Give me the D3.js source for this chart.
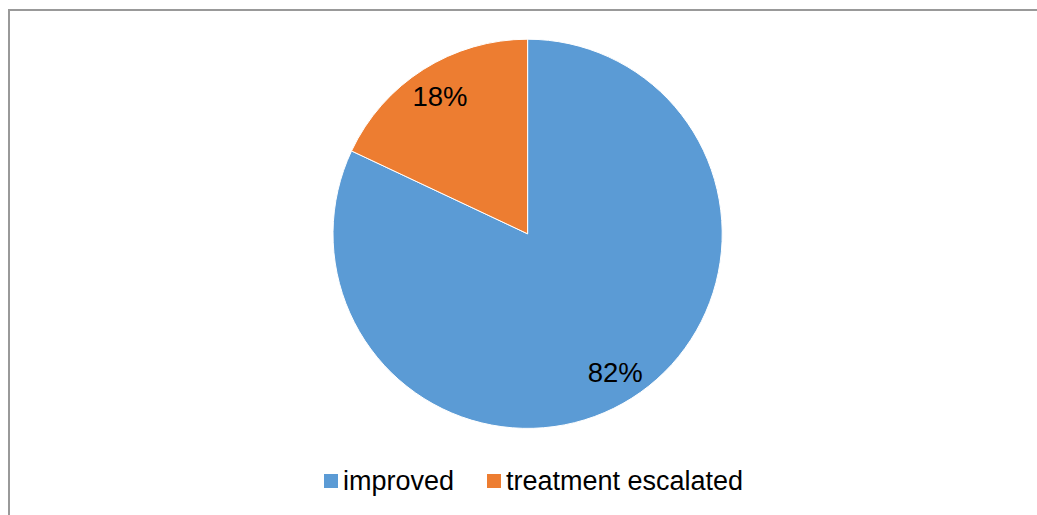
<!DOCTYPE html>
<html>
<head>
<meta charset="utf-8">
<script src="https://cdn.jsdelivr.net/npm/d3@7"></script>
<style>
  html, body { margin: 0; padding: 0; background: #fff; }
  svg { display: block; }
  text { font-family: "Liberation Sans", Arial, sans-serif; fill: #000; }
</style>
</head>
<body>
<svg id="chart" width="1037" height="515"></svg>
<script>
// Outcome shares
const categories = ["improved", "treatment escalated"];
const values = [82, 18];
const labels = ["82%", "18%"];
const colors = ["#5B9BD5", "#ED7D31"];

const W = 1037, H = 515;
const svg = d3.select("#chart");

// Chart frame (right and bottom edges run past the visible area)
svg.append("rect")
  .attr("x", 9).attr("y", 10)
  .attr("width", W + 20).attr("height", H + 20)
  .attr("fill", "#fff")
  .attr("stroke", "#999999")
  .attr("stroke-width", 2);

const cx = 527.6, cy = 233.8, r = 194.6;

// Slices run clockwise from 12 o'clock; the larger share is drawn first
const pie = d3.pie().sort(null).value(d => d)
  .startAngle(0).endAngle(2 * Math.PI);
const arcs = pie(values);
const arc = d3.arc().innerRadius(0).outerRadius(r);
const labelArc = d3.arc().innerRadius(r * 0.84).outerRadius(r * 0.84);

const g = svg.append("g").attr("transform", `translate(${cx},${cy})`);

g.selectAll("path.slice")
  .data(arcs)
  .join("path")
  .attr("class", "slice")
  .attr("d", arc)
  .attr("fill", (d, i) => colors[i])
  .attr("stroke", "#fff")
  .attr("stroke-width", 1);

g.selectAll("text.value")
  .data(arcs)
  .join("text")
  .attr("class", "value")
  .attr("transform", d => `translate(${labelArc.centroid(d)})`)
  .attr("text-anchor", "middle")
  .attr("dy", "0.36em")
  .style("font-size", "27.5px")
  .text((d, i) => labels[i]);

// Legend
const legendY = 481;
const legendFont = 27;
const legend = svg.append("g");
const items = [
  { x: 324 },
  { x: 487 }
];
categories.forEach((c, i) => {
  const it = legend.append("g").attr("transform", `translate(${items[i].x},${legendY})`);
  it.append("rect")
    .attr("x", 0).attr("y", -7)
    .attr("width", 14).attr("height", 14)
    .attr("fill", colors[i]);
  it.append("text")
    .attr("x", 19).attr("y", 0)
    .attr("dy", "0.35em")
    .style("font-size", legendFont + "px")
    .text(c);
});
</script>
</body>
</html>
